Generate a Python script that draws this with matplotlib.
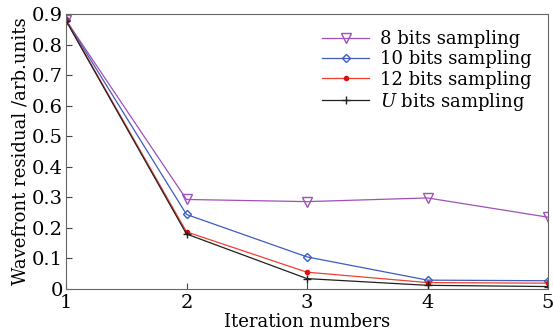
import matplotlib
matplotlib.use('Agg')
import matplotlib.pyplot as plt

iters = [1, 2, 3, 4, 5]
res8 = [0.880, 0.293, 0.286, 0.298, 0.235]
res10 = [0.880, 0.244, 0.105, 0.029, 0.027]
res12 = [0.880, 0.187, 0.055, 0.021, 0.019]
resU = [0.878, 0.180, 0.034, 0.012, 0.008]
labels = ['8 bits sampling', '10 bits sampling', '12 bits sampling', r'$U$ bits sampling']

plt.rcParams['font.family'] = ['DejaVu Serif']
plt.rcParams['mathtext.fontset'] = 'dejavuserif'

fig = plt.figure(figsize=(5.53, 3.34), dpi=100)
ax = fig.add_axes([66/553, 45/334, (548-66)/553, (289-14)/334])

ax.plot(iters, res8, color='#a050b8', lw=0.9, marker='v', ms=6.5, mfc='none', mec='#a050b8', label=labels[0])
ax.plot(iters, res10, color='#3c5cc0', lw=0.9, marker='D', ms=4.5, mfc='none', mec='#3c5cc0', label=labels[1])
ax.plot(iters, res12, color='#f04030', lw=0.9, marker='o', ms=3, mfc='#e01010', mec='#e01010', label=labels[2])
ax.plot(iters, resU, color='#202020', lw=0.9, marker='+', ms=6, label=labels[3])

ax.set_xlim(1, 5)
ax.set_ylim(0, 0.9)
ax.set_xticks(iters)
ax.set_yticks([0, 0.1, 0.2, 0.3, 0.4, 0.5, 0.6, 0.7, 0.8, 0.9])
ax.set_yticklabels(['0', '0.1', '0.2', '0.3', '0.4', '0.5', '0.6', '0.7', '0.8', '0.9'])
ax.tick_params(direction='in', labelsize=14, length=4, color='#444444')
ax.tick_params(axis='y', pad=2)
for s in ax.spines.values():
    s.set_color('#666666')
ax.set_xlabel('Iteration numbers', fontsize=13, labelpad=1)
ax.set_ylabel('Wavefront residual /arb.units', fontsize=13, labelpad=2)

ax.legend(loc='upper right', frameon=False, fontsize=13, handlelength=2.6,
          labelspacing=0.12, borderaxespad=0.5, handletextpad=0.6)

fig.savefig('out.png', dpi=100)
